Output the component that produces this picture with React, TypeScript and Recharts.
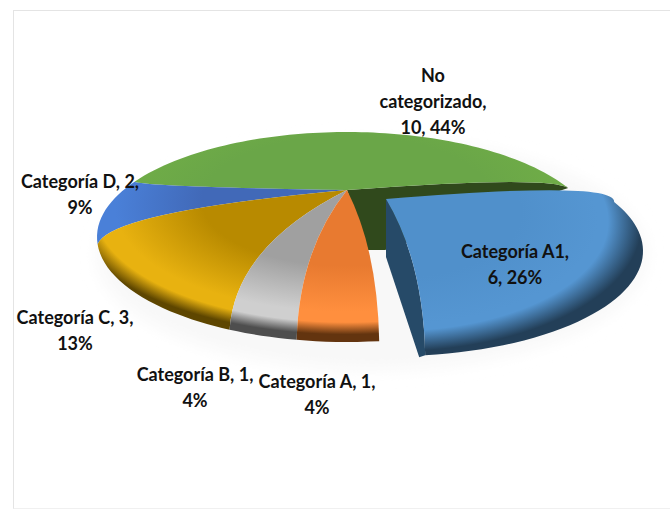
import { Pie, PieChart } from "recharts";

const categories = ["No categorizado", "Categoría D", "Categoría C", "Categoría B", "Categoría A", "Categoría A1"];
const values = [10, 2, 3, 1, 1, 6];
const percents = [44, 9, 13, 4, 4, 26];

const data = categories.map((name, i) => ({ name, value: values[i], percent: percents[i] }));

// text lines of each label, wrapped as in the picture
const labelLines = (i: number) => {
  const v = values[i];
  const p = percents[i] + "%";
  if (i === 0) return ["No", "categorizado,", `${v}, ${p}`];
  if (i === 5) return [`${categories[i]},`, `${v}, ${p}`];
  return [`${categories[i]}, ${v},`, p];
};

// centre x and first line y of each label
const labelPos = [
  [433, 82],
  [80, 188],
  [75, 324],
  [195, 381],
  [317, 388],
  [515, 258],
];

// base, highlight, dark
const shades = [
  ["#6aa648", "#70ad47", "#70ad47"],
  ["#4169b8", "#4a80d8", "#3f74c8"],
  ["#b88a00", "#e8b210", "#5e4600"],
  ["#a0a0a0", "#cfcfcf", "#4e4e4e"],
  ["#e87a30", "#ff8f3e", "#63340f"],
  ["#5090cb", "#5596d2", "#233f58"],
];

// the pie is a flat disc seen in perspective
const APEX = { x: 347, y: 190 };
const RIM = { x: 347, y: 237, a: 250, b: 105 };
const TILT = 0.35;
const EXPLODED = 5;
const APEX_SHIFT = { x: 39, y: 9 };
const RIM_SHIFT = { x: 46, y: 14 };

function rimPoint(deg: number, dx: number, dy: number) {
  // small correction for the lens of the 3D view on the lower left of the pie
  const width = deg < 225 ? 50 : 34;
  const bent = deg + 11 * Math.exp(-(((deg - 222) / width) ** 2));
  const r = (bent * Math.PI) / 180;
  const u = Math.cos(r);
  const v = Math.sin(r);
  const k = 1 + TILT * v;
  return {
    x: RIM.x + dx + (RIM.a * u * Math.sqrt(1 - TILT * TILT)) / k,
    y: RIM.y + dy - (RIM.b * (v + TILT)) / k,
  };
}

function control(p: { x: number; y: number }, apex: { x: number; y: number }) {
  return { x: p.x + (apex.x - p.x) * 0.05, y: p.y + (apex.y - p.y) * 0.6 };
}

function Slice(props: any) {
  const { startAngle, endAngle, index } = props;
  const exploded = index === EXPLODED;
  const dx = exploded ? RIM_SHIFT.x : 0;
  const dy = exploded ? RIM_SHIFT.y : 0;
  const apex = exploded ? { x: APEX.x + APEX_SHIFT.x, y: APEX.y + APEX_SHIFT.y } : APEX;
  const from = rimPoint(startAngle, dx, dy);
  const to = rimPoint(endAngle, dx, dy);
  // the edges on the right bulge upwards
  const c1 = index === 0 ? { x: from.x - 20, y: from.y - 13 } : control(from, apex);
  const c2 = exploded ? { x: to.x + 2, y: to.y - 22 } : control(to, apex);

  let d = `M${apex.x},${apex.y} Q${c1.x},${c1.y} ${from.x},${from.y}`;
  const n = Math.ceil(Math.abs(endAngle - startAngle) / 2);
  for (let i = 1; i <= n; i++) {
    const p = rimPoint(startAngle + ((endAngle - startAngle) * i) / n, dx, dy);
    d += ` L${p.x},${p.y}`;
  }
  d += ` Q${c2.x},${c2.y} ${apex.x},${apex.y} Z`;

  const [base, high, dark] = shades[index];
  const id = `slice-${index}`;
  // gradient ellipse sits higher than the rim, so only the front edge goes dark
  const up = 25;
  const widen = exploded ? 6 : 40;
  const gradCy = RIM.y + dy - up;
  const gradB = RIM.b + up;
  const transform = `translate(${RIM.x + dx},${gradCy}) scale(${RIM.a + widen},${gradB})`;

  return (
    <g>
      <defs>
        <radialGradient
          id={id}
          gradientUnits="userSpaceOnUse"
          cx={0}
          cy={0}
          r={1}
          fx={0}
          fy={(apex.y - gradCy) / gradB}
          gradientTransform={transform}
        >
          <stop offset="0" stopColor={base} />
          <stop offset="0.5" stopColor={base} />
          <stop offset="0.8" stopColor={high} />
          <stop offset={exploded ? "0.84" : "0.87"} stopColor={high} />
          <stop offset={exploded ? "0.97" : "0.95"} stopColor={dark} />
          <stop offset="1" stopColor={dark} />
        </radialGradient>
      </defs>
      {index === 0 && (
        <g>
          <filter id="soft" x="-20%" y="-20%" width="140%" height="140%">
            <feGaussianBlur stdDeviation="8" />
          </filter>
          <ellipse cx={RIM.x + 25} cy={RIM.y + 18} rx={RIM.a + 25} ry={RIM.b + 10} fill="#f8f8f8" filter="url(#soft)" />
          <path
            d={`M${apex.x},${apex.y} Q${c1.x},${c1.y} ${from.x},${from.y} L${apex.x + 38},${apex.y + 60} L${apex.x + 21},${apex.y + 60} Z`}
            fill="#30491c"
          />
        </g>
      )}
      {exploded && (
        <path
          d={`M${apex.x},${apex.y} L${apex.x},${apex.y + 58} L${from.x - 6},${from.y + 2} L${from.x},${from.y} Q${c1.x},${c1.y} ${apex.x},${apex.y} Z`}
          fill="#264a68"
        />
      )}
      <path d={d} fill={`url(#${id})`} />
    </g>
  );
}

function SliceLabel(props: any) {
  const { index } = props;
  const [x, y] = labelPos[index];
  return (
    <text
      x={x}
      y={y}
      textAnchor="middle"
      fontFamily="Lato"
      fontWeight={700}
      fontSize={18}
      fill="#111111"
    >
      {labelLines(index).map((line, i) => (
        <tspan key={i} x={x} dy={i === 0 ? 0 : 26}>
          {line}
        </tspan>
      ))}
    </text>
  );
}

export default function App() {
  return (
    <div style={{ position: "absolute", left: 0, top: 0, width: 670, height: 509, background: "#fff" }}>
      <div
        style={{
          position: "absolute",
          left: 13,
          top: 10,
          width: 657,
          height: 497,
          borderTop: "1px solid #e4e4e4",
          borderLeft: "1px solid #e4e4e4",
          borderBottom: "1px solid #f0f0f0",
        }}
      />
      <div style={{ position: "absolute", left: 0, top: 0 }}>
        <PieChart width={670} height={509} margin={{ top: 0, right: 0, bottom: 0, left: 0 }}>
          <Pie
            data={data}
            dataKey="value"
            nameKey="name"
            startAngle={8}
            endAngle={368}
            outerRadius={200}
            stroke="none"
            shape={Slice}
            label={SliceLabel}
            labelLine={false}
            isAnimationActive={false}
          />
        </PieChart>
      </div>
    </div>
  );
}
